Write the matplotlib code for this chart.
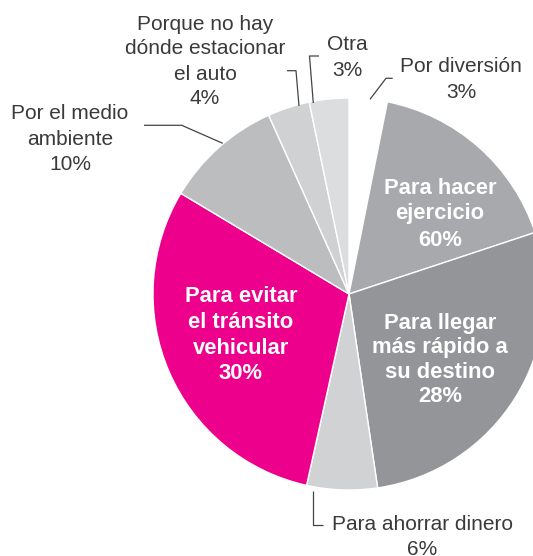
import matplotlib
matplotlib.use('Agg')
import matplotlib.pyplot as plt

# tamaño de cada rebanada tal como se ve en el dibujo (grados, sentido horario desde arriba)
motivos = ['Por diversión', 'Para hacer ejercicio', 'Para llegar más rápido a su destino',
           'Para ahorrar dinero', 'Para evitar el tránsito vehicular', 'Por el medio ambiente',
           'Porque no hay dónde estacionar el auto', 'Otra']
angulos = [11.3, 60.4, 99.9, 20.9, 108.4, 34.9, 12.5, 11.7]
porcentajes = [3, 60, 28, 6, 30, 10, 4, 3]
colores = ['#ffffff', '#a8a9ac', '#939598', '#d1d2d4', '#ec008c', '#bcbdbf', '#d0d1d3', '#dcdddf']

W, H = 533, 556
fig = plt.figure(figsize=(W / 100, H / 100), dpi=100)
ax = fig.add_axes([0, 0, 1, 1])

def Y(y):
    return H - y

ax.pie(angulos, colors=colores, startangle=90, counterclock=False,
       center=(349, Y(294)), radius=196,
       wedgeprops=dict(edgecolor='white', linewidth=1))
ax.set_xlim(0, W)
ax.set_ylim(0, H)
ax.set_aspect('auto')
ax.axis('off')

gris = '#3a3a3a'
fuente = 'Liberation Sans'

def etiqueta(x, y0, lineas, paso, bold=False):
    for i, t in enumerate(lineas):
        ax.text(x, Y(y0 + i * paso), t, ha='center', va='baseline',
                fontsize=15.8 if bold else 15, family=fuente,
                fontweight='bold' if bold else 'normal',
                color='white' if bold else gris)

def linea(pts):
    xs = [p[0] for p in pts]
    ys = [Y(p[1]) for p in pts]
    ax.plot(xs, ys, color='#444444', lw=0.9, solid_capstyle='butt')

# etiquetas exteriores
etiqueta(205, 29.5, ['Porque no hay', 'dónde estacionar', 'el auto', f'{porcentajes[6]}%'], 25)
etiqueta(347, 49.5, ['Otra', f'{porcentajes[7]}%'], 27)
etiqueta(461, 72.5, ['Por diversión', f'{porcentajes[0]}%'], 26)
etiqueta(70, 119, ['Por el medio', 'ambiente', f'{porcentajes[5]}%'], 25.7)
etiqueta(422.5, 530, ['Para ahorrar dinero', f'{porcentajes[3]}%'], 25)

# etiquetas interiores
etiqueta(440, 193.5, ['Para hacer', 'ejercicio', f'{porcentajes[1]}%'], 26, bold=True)
etiqueta(440, 328.5, ['Para llegar', 'más rápido a', 'su destino', f'{porcentajes[2]}%'], 24.6, bold=True)
etiqueta(241, 301.7, ['Para evitar', 'el tránsito', 'vehicular', f'{porcentajes[4]}%'], 25.9, bold=True)

# líneas guía
linea([(287, 70.7), (296, 70.7), (299, 106)])
linea([(319, 56), (309.5, 56), (313.3, 103)])
linea([(392.7, 78.3), (386, 78.3), (370, 99.3)])
linea([(144, 125.3), (181.7, 125.3), (222.7, 143.3)])
linea([(313.3, 490.7), (313.3, 525), (323.3, 525)])

fig.savefig('out.png', dpi=100)
